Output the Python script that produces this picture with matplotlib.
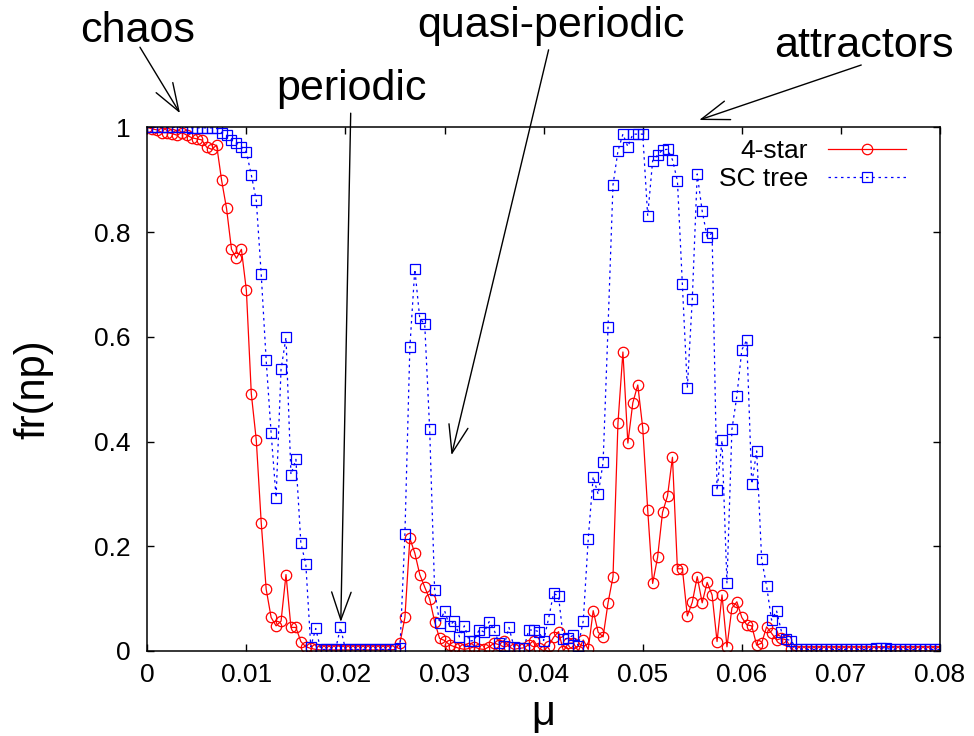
import numpy as np
import matplotlib
matplotlib.use("Agg")
import matplotlib.pyplot as plt

plt.rcParams['font.family'] = ['Liberation Sans', 'DejaVu Sans']

# -------------------------------
# data: fraction of non-periodic runs vs mu
# -------------------------------
mu = np.linspace(0.0, 0.08, 161)

star4 = [
    1.0, 0.997, 0.995, 0.99, 0.99, 0.988, 0.985, 0.99, 0.985, 0.98, 0.978,
    0.976, 0.962, 0.958, 0.966, 0.899, 0.845, 0.767, 0.75, 0.767, 0.689,
    0.491, 0.403, 0.245, 0.118, 0.064, 0.048, 0.057, 0.146, 0.045, 0.045, 0.018, 0.008,
    0.005, 0.003, 0.002, 0.002, 0.002, 0.002, 0.002, 0.002, 0.002, 0.002, 0.002,
    0.002, 0.002, 0.002, 0.002, 0.002, 0.002, 0.003,
    0.015, 0.064, 0.215, 0.187, 0.146, 0.122, 0.099, 0.056, 0.024,
    0.02, 0.012, 0.008, 0.005, 0.003, 0.005, 0.008, 0.004, 0.003, 0.008,
    0.015, 0.012, 0.02, 0.008, 0.003, 0.005, 0.006, 0.012, 0.02, 0.006,
    0.0, 0.01, 0.026, 0.037, 0.0, 0.015, 0.015, 0.0, 0.021, 0.003,
    0.077, 0.036, 0.027, 0.092, 0.142, 0.435, 0.571, 0.397, 0.474, 0.508,
    0.426, 0.27, 0.129, 0.179, 0.265, 0.296, 0.37, 0.157, 0.157, 0.067,
    0.093, 0.142, 0.092, 0.131, 0.107, 0.018, 0.107, 0.008, 0.082, 0.094,
    0.064, 0.05, 0.048, 0.011, 0.015, 0.046, 0.034, 0.021, 0.024, 0.021, 0.003,
    0.0, 0.0, 0.0, 0.0, 0.0, 0.0, 0.0, 0.0, 0.0, 0.0,
    0.0, 0.0, 0.0, 0.0, 0.0, 0.0, 0.0, 0.0, 0.0, 0.0,
    0.0, 0.0, 0.0, 0.0, 0.0, 0.0, 0.0, 0.0, 0.0, 0.0,
]

sc_tree = [
    1.0, 1.0, 1.0, 1.0, 1.0, 1.0, 1.0, 1.0, 1.0, 0.999, 0.999, 0.999, 0.999, 0.999,
    0.998, 0.99, 0.985, 0.975, 0.97, 0.963, 0.953,
    0.909, 0.861, 0.719, 0.555, 0.416, 0.293, 0.538, 0.599, 0.337, 0.366, 0.206, 0.166,
    0.008, 0.043, 0.003, 0.003, 0.003, 0.003, 0.045,
    0.003, 0.003, 0.003, 0.003, 0.003, 0.003, 0.003, 0.003, 0.003, 0.003, 0.003, 0.005,
    0.223, 0.58, 0.729, 0.635, 0.624, 0.423, 0.116,
    0.053, 0.077, 0.048, 0.058, 0.027, 0.048, 0.019, 0.02, 0.041, 0.036, 0.056,
    0.04, 0.015, 0.01, 0.045, 0.008, 0.005, 0.005, 0.04, 0.04, 0.037, 0.02,
    0.062, 0.11, 0.105,
    0.022, 0.025, 0.03, 0.01, 0.058,
    0.214, 0.333, 0.299, 0.36, 0.619, 0.89, 0.955, 0.987, 0.963, 0.987, 0.987, 0.987, 0.831,
    0.936, 0.947, 0.957, 0.958, 0.938, 0.898, 0.7, 0.502, 0.672, 0.911, 0.84, 0.791, 0.798,
    0.307, 0.402, 0.129, 0.423, 0.487, 0.575, 0.594, 0.319, 0.382, 0.175, 0.124, 0.059,
    0.077, 0.037, 0.022, 0.02,
    0.003, 0.003, 0.003, 0.003, 0.003, 0.003, 0.003, 0.003, 0.003, 0.003,
    0.003, 0.003, 0.003, 0.003, 0.003, 0.003, 0.006, 0.006, 0.006, 0.003,
    0.003, 0.003, 0.003, 0.003, 0.003, 0.003, 0.003, 0.003, 0.003, 0.003,
]

x_ticks = [0, 0.01, 0.02, 0.03, 0.04, 0.05, 0.06, 0.07, 0.08]
x_ticklabels = ["0", "0.01", "0.02", "0.03", "0.04", "0.05", "0.06", "0.07", "0.08"]
y_ticks = [0, 0.2, 0.4, 0.6, 0.8, 1.0]
y_ticklabels = ["0", "0.2", "0.4", "0.6", "0.8", "1"]

# regime labels: text, text anchor (x, baseline y), arrow tail, arrow tip
regimes = [
    ("chaos", (-0.00094, 1.163), (-0.00074, 1.153), (0.0033, 1.027)),
    ("periodic", (0.0206, 1.052), (0.02053, 1.027), (0.01953, 0.0554)),
    ("quasi-periodic", (0.04075, 1.172), (0.0405, 1.148), (0.0307, 0.374)),
    ("attractors", (0.0723, 1.134), (0.07205, 1.119), (0.0557, 1.014)),
]

# -------------------------------
# figure
# -------------------------------
fig = plt.figure(figsize=(9.74, 7.36), dpi=100)
ax = fig.add_axes([0.1512, 0.1155, 0.8139, 0.7115])

ax.plot(mu, star4, color="red", lw=0.9, marker="o", ms=7.5, mfc="none",
        mec="red", mew=0.9, label="4-star")
ax.plot(mu, sc_tree, color="blue", lw=0.9, ls=(0, (2, 3)), marker="s", ms=6.5,
        mfc="none", mec="blue", mew=0.9, label="SC tree")

ax.set_xlim(0, 0.08)
ax.set_ylim(0, 1)
ax.set_xticks(x_ticks)
ax.set_xticklabels(x_ticklabels)
ax.set_yticks(y_ticks)
ax.set_yticklabels(y_ticklabels)
ax.tick_params(direction="in", length=5, width=1, top=True, right=True,
               labelsize=19)
ax.tick_params(axis="x", pad=9)
ax.tick_params(axis="y", pad=12)
for s in ax.spines.values():
    s.set_linewidth(1.1)

ax.set_xlabel("μ", fontsize=30, labelpad=5)
ax.set_ylabel("fr(np)", fontsize=30, labelpad=29)

leg = ax.legend(loc="upper right", bbox_to_anchor=(0.992, 1.03), frameon=False,
                fontsize=19, markerfirst=False, handlelength=2.95,
                borderaxespad=0.85, labelspacing=0.15, handletextpad=0.76,
                borderpad=0.2)
for t in leg.get_texts():
    t.set_ha("right")

# regime annotations
arrow = dict(arrowstyle="->,head_length=2.0,head_width=0.7", color="black",
             lw=1.0, shrinkA=0, shrinkB=0, mutation_scale=10)
for label, (tx, ty), tail, tip in regimes:
    ax.text(tx, ty, label, fontsize=31, ha="center", va="baseline", clip_on=False)
    ax.annotate("", xy=tip, xytext=tail, arrowprops=arrow, annotation_clip=False)

fig.savefig("out.png", dpi=100)
